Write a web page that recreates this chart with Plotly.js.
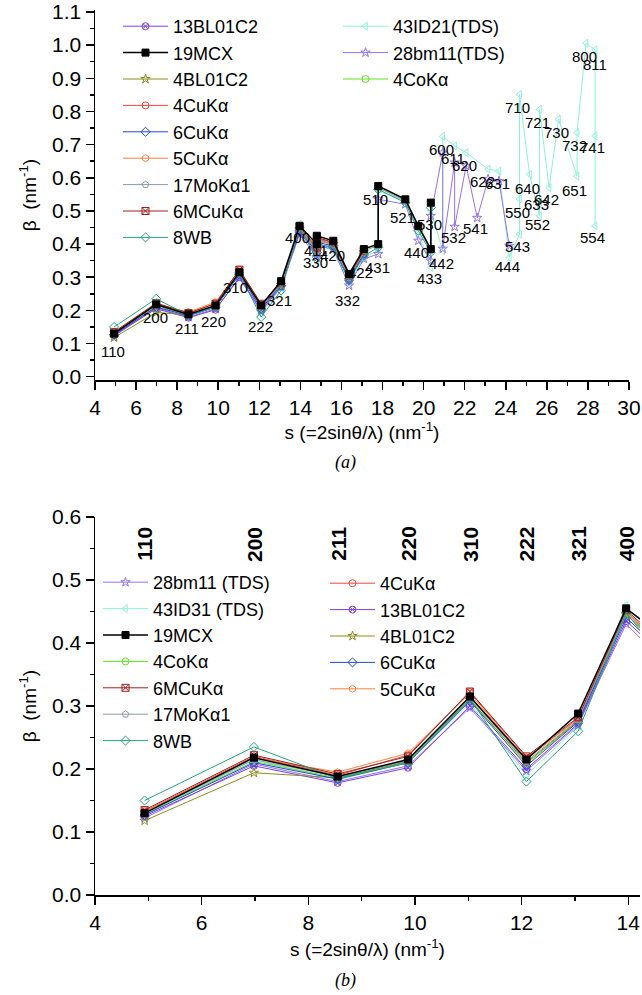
<!DOCTYPE html>
<html>
<head>
<meta charset="utf-8">
<script src="https://cdn.plot.ly/plotly-3.0.1.min.js"></script>
<style>body{margin:0;padding:0;background:#fff}</style>
</head>
<body>
<div id="chart" style="width:642px;height:995px"></div>
<script>
// reflections shared by all datasets (s in nm^-1)
var hklCommon = ['110','200','211','220','310','222','321','400','330','411','420','332','422','431','510','521','440','433','530'];
var sCommon = [4.93, 6.98, 8.55, 9.87, 11.03, 12.09, 13.06, 13.96, 14.80, 14.80, 15.60, 16.37, 17.09, 17.79, 17.79, 19.11, 19.74, 20.35, 20.35];

// beta (nm^-1) per dataset, in the order of hklCommon
var b13BL01C2 = [0.125, 0.205, 0.178, 0.202, 0.300, 0.200, 0.272, 0.435, 0.370, 0.400, 0.390, 0.290, 0.370];
var b19MCX    = [0.130, 0.218, 0.188, 0.215, 0.315, 0.215, 0.288, 0.455, 0.400, 0.425, 0.410, 0.310, 0.385, 0.400, 0.575, 0.535, 0.455, 0.385, 0.525];
var b4BL01C2  = [0.118, 0.194, 0.186, 0.212, 0.310, 0.210, 0.277, 0.445, 0.380, 0.410, 0.400, 0.300, 0.375];
var b4CuKa    = [0.133, 0.220, 0.190, 0.222, 0.322, 0.218, 0.280, 0.450, 0.385, 0.415, 0.405, 0.305, 0.380];
var b6CuKa    = [0.127, 0.210, 0.184, 0.210, 0.308, 0.205, 0.275, 0.440, 0.375, 0.405, 0.395, 0.295, 0.370];
var b5CuKa    = [0.132, 0.218, 0.195, 0.225, 0.320, 0.215, 0.280, 0.450, 0.380, 0.410, 0.400, 0.300, 0.375];
var b17MoKa1  = [0.130, 0.215, 0.188, 0.213, 0.313, 0.212, 0.278, 0.448, 0.380, 0.415, 0.400, 0.300, 0.380, 0.395, 0.570, 0.530, 0.450, 0.380, 0.520];
var b6MCuKa   = [0.135, 0.222, 0.192, 0.220, 0.323, 0.220, 0.282, 0.452, 0.390, 0.420, 0.405, 0.305, 0.380];
var b8WB      = [0.150, 0.235, 0.185, 0.210, 0.312, 0.180, 0.260, 0.448, 0.360, 0.400, 0.390, 0.290, 0.365, 0.390, 0.565, 0.525, 0.440, 0.375, 0.510];
var b4CoKa    = [0.128, 0.212, 0.186, 0.212, 0.310, 0.208, 0.276, 0.445, 0.380, 0.410, 0.400, 0.300, 0.375];

// TDS datasets go further out in s
var hkl28bm11 = ['600','442','611','532','620','541','622','631','543'];
var s28bm11   = [20.93, 20.93, 21.51, 21.51, 22.07, 22.61, 23.14, 23.67, 24.17];
var b28bm11   = [0.122, 0.208, 0.180, 0.205, 0.297, 0.197, 0.270, 0.430, 0.360, 0.395, 0.385, 0.275, 0.355, 0.370, 0.535, 0.520, 0.410, 0.350, 0.485,
                 0.676, 0.386, 0.646, 0.452, 0.636, 0.479, 0.596, 0.590, 0.395];

var hkl43ID = ['442','600','611','620','622','631','444','543','550','710','640','552','633','721','642','730','651','732','800','811','741','554'];
var s43ID   = [20.93, 20.93, 21.51, 22.07, 23.14, 23.67, 24.17, 24.67, 24.67, 24.67, 25.16, 25.64, 25.64, 25.64, 26.11, 26.57, 27.47, 27.47, 27.91, 28.35, 28.35, 28.35];
var b43ID   = [0.128, 0.215, 0.183, 0.210, 0.305, 0.190, 0.268, 0.460, 0.350, 0.400, 0.380, 0.280, 0.360, 0.380, 0.560, 0.530, 0.440, 0.330, 0.500,
               0.380, 0.725, 0.696, 0.676, 0.626, 0.620, 0.360, 0.430, 0.536, 0.851, 0.610, 0.485, 0.525, 0.806, 0.570, 0.776, 0.605, 0.736, 1.006, 0.986, 0.726, 0.455];

// hkl labels in panel (a)
var labTop  = ['110','200','211','220','310','222','321','400','411','330','420','332','422','431','510','521','440','530','433','442','600','611','620','532','541','622','631','444','543','550','640','633','642','552','651','554','710','721','730','732','741','800','811'];
var labTopS = [4.9,6.95,8.49,9.79,10.85,12.07,12.96,13.86,14.75,14.75,15.56,16.3,16.95,17.76,17.66,18.98,19.63,20.28,20.28,20.85,20.85,21.42,21.99,21.45,22.55,22.85,23.58,24.1,24.59,24.59,25.07,25.51,25.97,25.56,27.35,28.24,24.59,25.56,26.46,27.35,28.24,27.84,28.33];
var labTopB = [0.075,0.18,0.145,0.165,0.27,0.15,0.23,0.42,0.38,0.343,0.365,0.23,0.315,0.33,0.535,0.48,0.375,0.46,0.295,0.34,0.686,0.659,0.636,0.42,0.446,0.59,0.583,0.333,0.393,0.496,0.569,0.519,0.533,0.459,0.563,0.419,0.811,0.766,0.736,0.696,0.691,0.966,0.943];

// hkl ticks along the top of panel (b)
var labBot = hklCommon.slice(0, 8);
var labBotS = sCommon.slice(0, 8);

var FONT = 'Liberation Sans, Arial, sans-serif';
var H = 995, MT = 10, MB = 100, ML = 95, MR = 2;
function py(p) { return (H - MB - p) / (H - MT - MB); }
function px(p) { return (p - ML) / (642 - ML - MR); }

// name top, name bottom, s, beta, colour, symbol, legend (a), legend (b), rank (a), rank (b)
var series = [
  ['43ID21(TDS)', '43ID31 (TDS)', sCommon.concat(s43ID), b43ID, '#8ef2d8', 'triangle-left-open', 'legend2', 'legend3', 1, 2],
  ['28bm11(TDS)', '28bm11 (TDS)', sCommon.concat(s28bm11), b28bm11, '#9573ec', 'star-open', 'legend2', 'legend3', 2, 1],
  ['4CoK\u03b1', '4CoK\u03b1', sCommon, b4CoKa, '#5ee61e', 'circle-open', 'legend2', 'legend3', 3, 4],
  ['13BL01C2', '13BL01C2', sCommon, b13BL01C2, '#7b3fe4', 'circle-x-open', 'legend', 'legend4', 1, 2],
  ['4BL01C2', '4BL01C2', sCommon, b4BL01C2, '#8c8c1e', 'star-open', 'legend', 'legend4', 3, 3],
  ['4CuK\u03b1', '4CuK\u03b1', sCommon, b4CuKa, '#f0463c', 'circle-open', 'legend', 'legend4', 4, 1],
  ['6CuK\u03b1', '6CuK\u03b1', sCommon, b6CuKa, '#2346e0', 'diamond-open', 'legend', 'legend4', 5, 4],
  ['5CuK\u03b1', '5CuK\u03b1', sCommon, b5CuKa, '#ff7f40', 'hexagon-open', 'legend', 'legend4', 6, 5],
  ['17MoK\u03b11', '17MoK\u03b11', sCommon, b17MoKa1, '#8c9ba3', 'pentagon-open', 'legend', 'legend3', 7, 6],
  ['6MCuK\u03b1', '6MCuK\u03b1', sCommon, b6MCuKa, '#a31f1f', 'square-x-open', 'legend', 'legend3', 8, 5],
  ['8WB', '8WB', sCommon, b8WB, '#23a57f', 'diamond-open', 'legend', 'legend3', 9, 7],
  ['19MCX', '19MCX', sCommon, b19MCX, '#000000', 'square', 'legend', 'legend3', 2, 3]
];

var data = [];
series.forEach(function (d) {
  var n = d[3].length;
  var base = {
    mode: 'lines+markers',
    y: d[3],
    x: d[2].slice(0, n),
    line: {color: d[4], width: d[4] === '#000000' ? 1.5 : 1},
    marker: {symbol: d[5], size: 7, color: d[4], line: {color: d[4], width: 1}}
  };
  data.push(Object.assign({}, base, {name: d[0], xaxis: 'x', yaxis: 'y', legend: d[6], legendrank: d[8]}));
  data.push(Object.assign({}, base, {name: d[1], xaxis: 'x2', yaxis: 'y2', legend: d[7], legendrank: d[9]}));
});

var annotations = [];
labTop.forEach(function (t, i) {
  annotations.push({x: labTopS[i], y: labTopB[i], xref: 'x', yref: 'y', text: t, showarrow: false,
    font: {family: FONT, size: 15, color: '#000'}});
});
labBot.forEach(function (t, i) {
  annotations.push({x: labBotS[i], y: 0.557, xref: 'x2', yref: 'y2', text: '<b>' + t + '</b>', showarrow: false,
    textangle: -90, font: {family: FONT, size: 21, color: '#000'}});
});
annotations.push({x: px(345), y: py(463), xref: 'paper', yref: 'paper', text: '<i>(a)</i>', showarrow: false,
  font: {family: 'Liberation Serif, serif', size: 18, color: '#000'}});
annotations.push({x: px(345), y: py(993), xref: 'paper', yref: 'paper', yanchor: 'bottom', text: '<i>(b)</i>', showarrow: false,
  font: {family: 'Liberation Serif, serif', size: 18, color: '#000'}});

function axis(extra) {
  return Object.assign({
    showline: true, linecolor: '#000', linewidth: 1.5, mirror: false,
    ticks: 'outside', ticklen: 8, tickwidth: 1.5, tickcolor: '#000',
    showgrid: false, zeroline: false,
    tickfont: {family: FONT, size: 21, color: '#000'}
  }, extra);
}
function xTitle(standoff) {
  return {text: 's (=2sin\u03b8/\u03bb) (nm<sup>-1</sup>)', font: {family: FONT, size: 19, color: '#000'}, standoff: standoff};
}
var yTitle = {text: '\u03b2  (nm<sup>-1</sup>)', font: {family: FONT, size: 19, color: '#000'}, standoff: 10};

function leg(x, y) {
  return {x: px(x), y: py(y), xanchor: 'left', yanchor: 'top', bgcolor: 'rgba(0,0,0,0)',
    font: {family: FONT, size: 18, color: '#000'}, itemwidth: 45, tracegroupgap: 0, traceorder: 'normal'};
}

var layout = {
  width: 642, height: H,
  margin: {l: ML, r: MR, t: MT, b: MB},
  paper_bgcolor: '#fff', plot_bgcolor: '#fff',
  xaxis: axis({domain: [0, px(629)], range: [4, 30], dtick: 2, tick0: 0, anchor: 'y',
    minor: {dtick: 1, ticklen: 4, ticks: 'outside', tickcolor: '#000', tickwidth: 1.5}, title: xTitle(6)}),
  yaxis: axis({domain: [py(380), 1], range: [-0.01, 1.106], dtick: 0.1, tick0: 0, tickformat: '.1f', anchor: 'x',
    minor: {dtick: 0.05, ticklen: 4, ticks: 'outside', tickcolor: '#000', tickwidth: 1.5}, title: yTitle}),
  xaxis2: axis({domain: [0, 1], range: [4, 14.22], dtick: 2, tick0: 0, anchor: 'y2',
    minor: {dtick: 1, ticklen: 4, ticks: 'outside', tickcolor: '#000', tickwidth: 1.5}, title: xTitle(10)}),
  yaxis2: axis({domain: [0, py(517)], range: [0, 0.6], dtick: 0.1, tick0: 0, tickformat: '.1f', anchor: 'x2',
    minor: {dtick: 0.05, ticklen: 4, ticks: 'outside', tickcolor: '#000', tickwidth: 1.5}, title: yTitle}),
  legend: leg(118, 8),
  legend2: leg(338, 8),
  legend3: leg(98, 564),
  legend4: leg(325, 565),
  annotations: annotations
};

Plotly.newPlot('chart', data, layout, {displayModeBar: false, staticPlot: true});
</script>
</body>
</html>
